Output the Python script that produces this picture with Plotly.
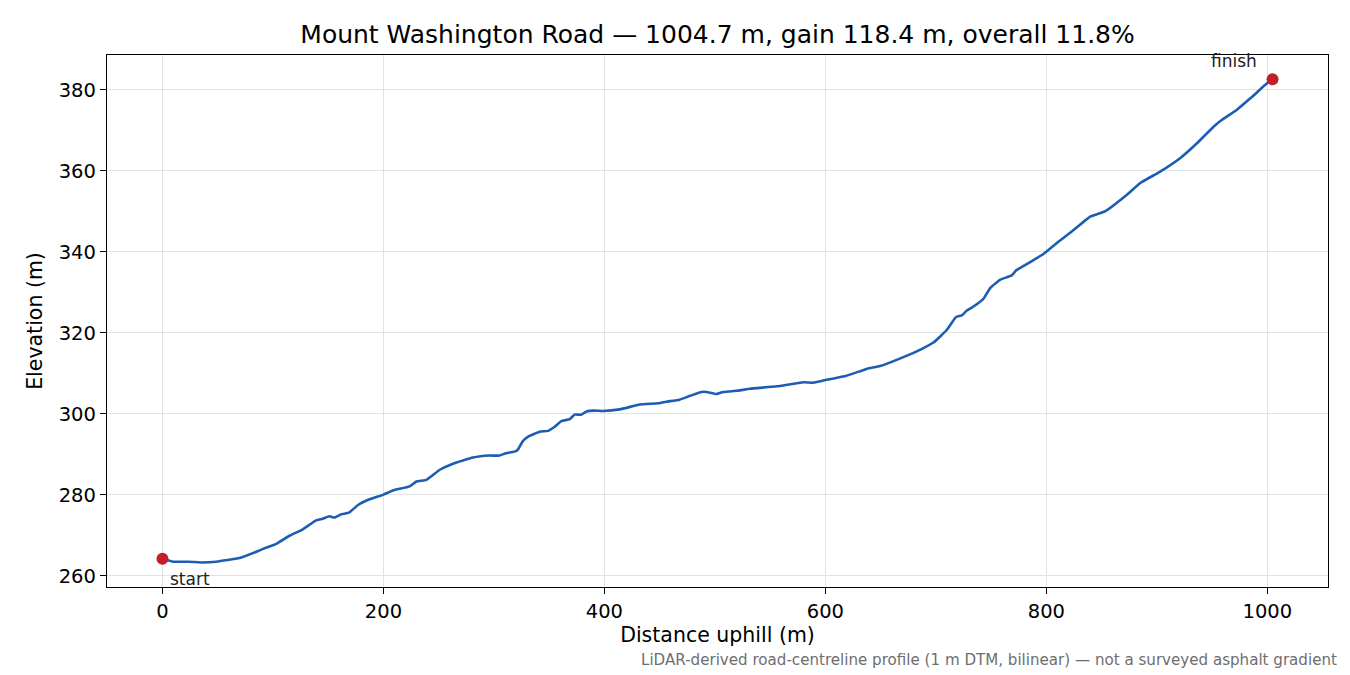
import plotly.graph_objects as go

# road profile (distance m, elevation m)
distance = [0, 9.4, 24.5, 36.5, 48.6, 69.7, 87.9, 92.4, 103, 115, 127, 139, 145, 151, 155.8,
            161.9, 168.8, 177, 187.5, 199.5, 208.6, 223.7, 229.8, 238.8, 251, 263, 281, 296,
            305, 311, 320, 322, 326, 331, 341.5, 349, 355, 361, 368.7, 373, 379, 383.8, 390,
            399, 414, 432, 448.7, 456, 468, 477, 488, 492.5, 501.5, 507.5, 522.6, 531.7, 555.9,
            580, 589, 601, 619, 637.4, 649.5, 670.6, 687, 697.8, 709.8, 718.3, 723.4, 728, 734,
            743, 749, 758, 768.7, 773, 788, 797, 809.5, 821.6, 839.7, 853, 872.9, 885, 903,
            921, 936.3, 951.3, 959, 972.5, 984.6, 999.7, 1004.7]
elevation = [264.2, 263.5, 263.5, 263.3, 263.5, 264.4, 266.3, 266.8, 267.9, 269.9, 271.5, 273.7,
             274.1, 274.7, 274.4, 275.2, 275.6, 277.5, 278.9, 280.0, 281.1, 282.1, 283.3, 283.7,
             286.2, 287.7, 289.2, 289.7, 289.7, 290.3, 290.8, 291.3, 293.2, 294.4, 295.6, 295.8,
             296.8, 298.2, 298.7, 299.8, 299.8, 300.6, 300.8, 300.7, 301.1, 302.3, 302.6, 303.0,
             303.5, 304.4, 305.4, 305.4, 304.9, 305.4, 305.8, 306.2, 306.8, 307.8, 307.7, 308.4,
             309.4, 311.1, 311.8, 314.0, 316.0, 317.6, 320.7, 323.9, 324.3, 325.5, 326.5, 328.4,
             331.0, 333.1, 334.2, 335.5, 337.9, 339.4, 342.2, 344.7, 348.7, 350.0, 354.1, 357.0,
             359.8, 363.1, 366.8, 370.9, 372.6, 375.1, 377.9, 381.6, 382.6]

end_labels = ["start", "finish"]
x_ticks = [0, 200, 400, 600, 800, 1000]
y_ticks = [260, 280, 300, 320, 340, 360, 380]

font = "DejaVu Sans, Liberation Sans, sans-serif"

fig = go.Figure()

fig.add_trace(go.Scatter(
    x=distance, y=elevation,
    mode="lines",
    line=dict(color="#1c5db3", width=2.6, shape="spline", smoothing=0.4),
    showlegend=False
))

fig.add_trace(go.Scatter(
    x=[distance[0], distance[-1]], y=[elevation[0], elevation[-1]],
    mode="markers",
    marker=dict(color="#c1202a", size=12),
    showlegend=False
))

# end labels
fig.add_annotation(x=distance[0], y=elevation[0], text=end_labels[0], showarrow=False,
                   xanchor="left", yanchor="top", xshift=6, yshift=-8,
                   font=dict(family=font, size=17, color="#222222"))
fig.add_annotation(x=distance[-1], y=elevation[-1], text=end_labels[1], showarrow=False,
                   xanchor="right", yanchor="bottom", xshift=-14, yshift=6,
                   font=dict(family=font, size=17, color="#222222"))

fig.add_annotation(xref="paper", yref="paper", x=1.009, y=-0.137,
                   text="LiDAR-derived road-centreline profile (1 m DTM, bilinear) — not a surveyed asphalt gradient",
                   showarrow=False, xanchor="right", yanchor="middle",
                   font=dict(family=font, size=15.1, color="#6e6e6e"))

# page body has an 8px margin, so the plot box is shifted up/left by 8
fig.update_layout(
    width=1350, height=675,
    paper_bgcolor="white", plot_bgcolor="white",
    margin=dict(l=99, r=30, t=47, b=96),
    font=dict(family=font, size=20, color="black"),
    title=dict(text="Mount Washington Road — 1004.7 m, gain 118.4 m, overall 11.8%",
               x=0.5256, xanchor="center", y=0.9615, yanchor="middle",
               font=dict(family=font, size=25, color="black")),
)

fig.update_xaxes(
    range=[-50.2, 1054.9], tickvals=x_ticks,
    title=dict(text="Distance uphill (m)", font=dict(size=20.5), standoff=6),
    tickfont=dict(size=19.5),
    showgrid=True, gridcolor="#e2e2e2", gridwidth=1,
    showline=True, linecolor="black", linewidth=1.3, mirror=True,
    ticks="outside", ticklen=6, tickwidth=1.3, tickcolor="black", zeroline=False
)
fig.update_yaxes(
    range=[257.25, 388.6], tickvals=y_ticks,
    title=dict(text="Elevation (m)", font=dict(size=20.5), standoff=10),
    tickfont=dict(size=19.5),
    showgrid=True, gridcolor="#e2e2e2", gridwidth=1,
    showline=True, linecolor="black", linewidth=1.3, mirror=True,
    ticks="outside", ticklen=6, tickwidth=1.3, tickcolor="black", zeroline=False
)

fig.write_html("out.html")
